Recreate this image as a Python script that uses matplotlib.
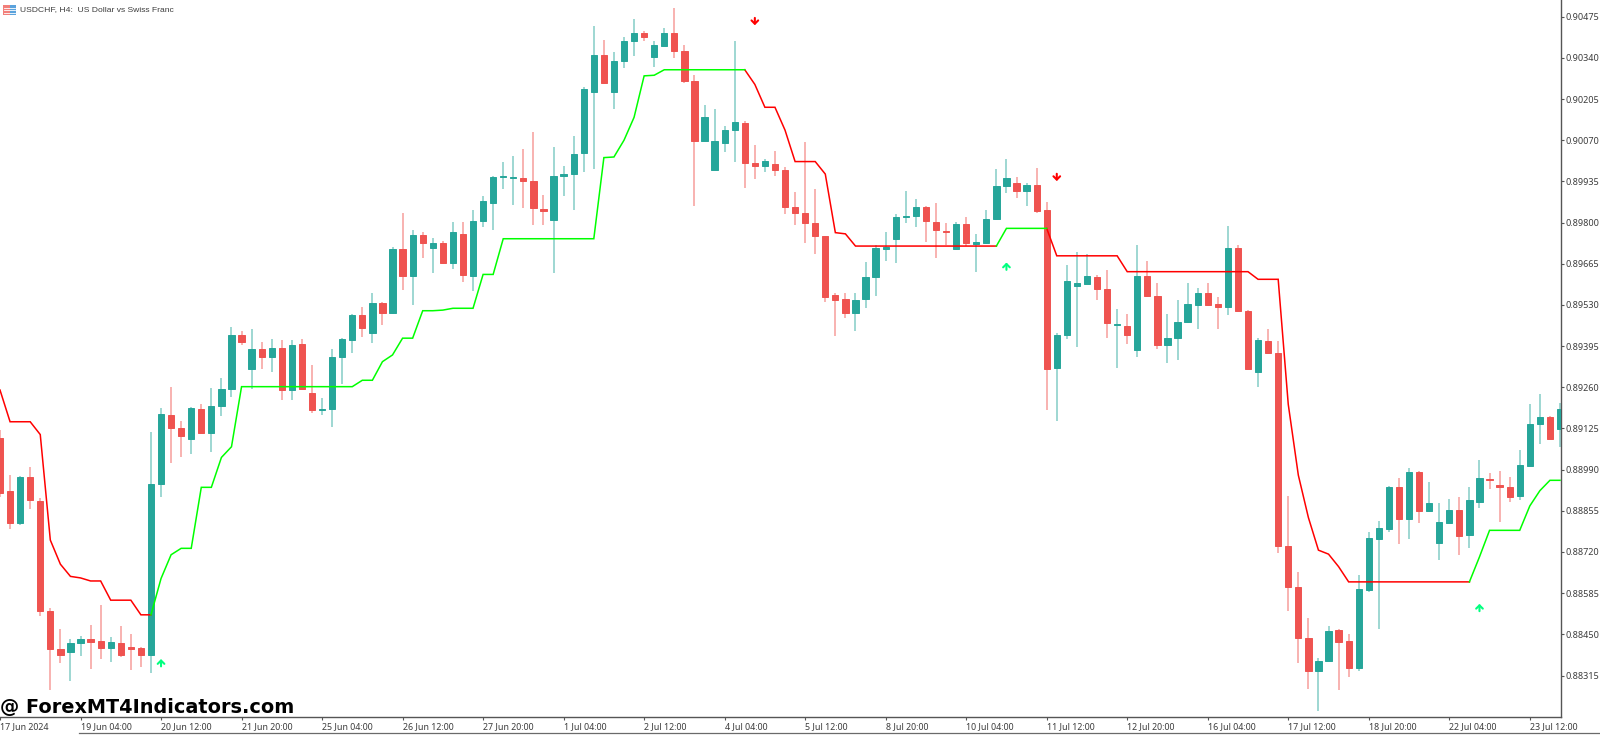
import numpy as np
import matplotlib
matplotlib.use("Agg")
import matplotlib.pyplot as plt
from matplotlib.patches import Rectangle
from matplotlib.lines import Line2D

# prices are in points (1 point = 0.00001)
opens = [89095,88919,88816,88966,88887,88526,88402,88393,88420,88434,88427,88406,88422,88408,88406,88383,
 88943,89169,89128,89091,89189,89110,89198,89256,89431,89320,89385,89360,89390,89250,89401,89240,
 89185,89188,89358,89414,89497,89439,89536,89503,89713,89626,89758,89718,89732,89667,89761,89626,
 89806,89864,89950,89947,89947,89936,89844,89809,89952,89960,90028,90227,90351,90229,90331,90396,
 90421,90342,90380,90420,90363,90265,90068,89973,90060,90103,90128,89996,89987,89992,89972,89852,
 89831,89797,89755,89561,89548,89502,89548,89620,89713,89747,89818,89820,89852,89803,89773,89712,
 89796,89731,89732,89812,89920,89931,89903,89924,89840,89323,89430,89591,89600,89622,89581,89463,
 89461,89381,89625,89558,89399,89422,89473,89531,89568,89532,89524,89717,89511,89310,89411,89374,
 88740,88604,88439,88330,88364,88463,88429,88341,88595,88762,88797,88934,88828,88983,88853,88748,
 88816,88858,88776,88885,88958,88941,88933,88903,89002,89138,89162,89123]
highs = [89120,88972,88970,89000,88898,88537,88467,88434,88445,88480,88545,88441,88477,88450,88408,89113,
 89191,89260,89149,89194,89204,89257,89292,89456,89445,89451,89410,89418,89415,89414,89418,89332,
 89224,89385,89420,89499,89524,89569,89539,89720,89830,89775,89768,89748,89738,89801,89803,89841,
 89887,89953,89998,90018,90041,90098,89889,90049,89984,90084,90243,90444,90398,90359,90407,90467,
 90427,90394,90437,90502,90381,90284,90187,90172,90116,90395,90132,90054,90008,90034,89981,89900,
 90063,89909,89757,89568,89568,89568,89671,89728,89769,89827,89903,89876,89854,89865,89797,89801,
 89817,89762,89841,89974,90008,89951,89931,89980,89868,89439,89660,89703,89697,89628,89644,89518,
 89499,89726,89675,89602,89501,89546,89601,89584,89601,89555,89789,89728,89513,89420,89450,89411,
 88903,88654,88502,88371,88477,88469,88450,88646,88787,88823,88935,88961,88997,88987,88948,88881,
 88893,88900,88933,89022,88979,88985,88966,89055,89204,89238,89166,89207]
lows = [88900,88797,88810,88860,88511,88267,88357,88298,88380,88336,88369,88359,88377,88333,88344,88322,
 88901,89013,89032,89041,89108,89048,89167,89227,89399,89254,89320,89311,89219,89219,89251,89176,
 89169,89131,89271,89373,89424,89406,89463,89500,89579,89530,89684,89634,89665,89648,89606,89575,
 89785,89777,89911,89857,89849,89793,89793,89636,89888,89841,89965,89974,90254,90171,90306,90347,
 90396,90310,90379,90340,90256,89855,90066,89972,90031,90000,89913,89942,89967,89954,89827,89792,
 89734,89698,89539,89429,89488,89445,89521,89558,89674,89667,89799,89786,89737,89684,89726,89710,
 89723,89639,89730,89808,89898,89881,89855,89831,89184,89150,89417,89391,89598,89545,89421,89322,
 89403,89358,89555,89386,89340,89351,89472,89451,89526,89451,89498,89507,89319,89261,89368,88717,
 88525,88357,88270,88199,88364,88267,88311,88330,88590,88468,88787,88745,88764,88815,88852,88694,
 88815,88709,88732,88864,88926,88819,88884,88892,89001,89073,89089,89063]
closes = [88912,88816,88967,88891,88525,88402,88381,88420,88434,88426,88406,88425,88381,88403,88382,88944,
 89172,89127,89101,89192,89110,89199,89255,89431,89407,89385,89360,89390,89250,89397,89253,89185,
 89188,89358,89418,89497,89453,89535,89504,89713,89626,89758,89733,89732,89669,89768,89628,89806,
 89872,89950,89953,89949,89936,89848,89839,89952,89959,90024,90237,90351,90256,90331,90396,90420,
 90409,90381,90420,90363,90264,90068,90145,90066,90103,90131,89994,89987,90001,89972,89852,89831,
 89799,89757,89557,89547,89502,89546,89620,89715,89719,89818,89820,89852,89804,89775,89769,89796,
 89732,89735,89813,89920,89947,89903,89924,89838,89320,89430,89610,89601,89625,89581,89472,89467,
 89432,89625,89558,89399,89421,89474,89532,89568,89531,89523,89715,89511,89321,89414,89374,88740,
 88604,88439,88329,88362,88462,88426,88341,88598,88765,88798,88934,88828,88983,88853,88881,88818,
 88858,88774,88890,88962,88955,88932,88900,89004,89138,89164,89090,89188]

nan = float("nan")
red_line = [89251,89147,89147,89147,89105,88759,88680,88640,88635,88625,88625,88562,88562,88562,88514,88514]
red_line += [nan]*58
red_line += [90301,90253,90178,90178,90103,90000,90000,90000,89959,89767,89763,89723,89723,89723,89723,89723,
 89723,89723,89723,89723,89723,89723,89723,89723,89723,89723]
red_line += [nan]*4
red_line += [89781,89691,89691,89691,89691,89691,89691,89691,89639,89639,89639,89639,89639,89639,89639,89639,
 89639,89639,89639,89639,89639,89614,89614,89614,89204,88972,88833,88726,88713,88672,88622,88622,88622,88622,
 88622,88622,88622,88622,88622,88622,88622,88622,88622]
red_line += [nan]*9

green_line = [nan]*15
green_line += [88514,88633,88711,88732,88732,88932,88932,89030,89065,89262,89262,89262,89262,89262,89262,89262,
 89262,89262,89262,89262,89262,89283,89283,89344,89366,89421,89421,89511,89511,89513,89519,89519,89519,89630,
 89630,89747,89747,89747,89747,89747,89747,89747,89747,89747,89747,90013,90015,90070,90145,90281,90283,90301,
 90301,90301,90301,90301,90301,90301,90301,90301]
green_line += [nan]*24
green_line += [89723,89781,89781,89781,89781,89781]
green_line += [nan]*41
green_line += [88622,88704,88791,88791,88791,88791,88871,88921,88955,88955]

up_idx = [16, 100, 147]
up_price = [88357, 89657, 88538]
down_idx = [75, 105]
down_price = [90459, 89948]

y_tick_labels = ["0.90475","0.90340","0.90205","0.90070","0.89935","0.89800","0.89665","0.89530","0.89395",
                 "0.89260","0.89125","0.88990","0.88855","0.88720","0.88585","0.88450","0.88315"]
x_tick_labels = ["17 Jun 2024","19 Jun 04:00","20 Jun 12:00","21 Jun 20:00","25 Jun 04:00","26 Jun 12:00",
                 "27 Jun 20:00","1 Jul 04:00","2 Jul 12:00","4 Jul 04:00","5 Jul 12:00","8 Jul 20:00",
                 "10 Jul 04:00","11 Jul 12:00","12 Jul 20:00","16 Jul 04:00","17 Jul 12:00","18 Jul 20:00",
                 "22 Jul 04:00","23 Jul 12:00"]
title_text = "USDCHF, H4:  US Dollar vs Swiss Franc"
watermark = "@ ForexMT4Indicators.com"

UP = "#26A69A"; DOWN = "#EF5350"
W, H = 1600, 735
fig = plt.figure(figsize=(W/100, H/100), dpi=100, facecolor="white")
ax = fig.add_axes([0, 1-716.7/H, 1560.5/W, 716.7/H])
ax.set_facecolor("white")

o, h, l, c = [np.array(v, float)/1e5 for v in (opens, highs, lows, closes)]
x = np.arange(len(o))
cols = [UP if cc >= oo else DOWN for oo, cc in zip(o, c)]

ax.vlines(x, l, h, colors=cols, linewidth=1.25, alpha=0.5, zorder=2)
bottom = np.minimum(o, c); height = np.maximum(np.abs(c-o), 0.00002)
ax.bar(x, height, width=0.62, bottom=bottom, color=cols, edgecolor=cols, linewidth=0.7, zorder=3)

ax.plot(np.arange(len(red_line)), np.array(red_line)/1e5, color="#FF0000", lw=1.1, zorder=4, solid_joinstyle="miter")
ax.plot(np.arange(len(green_line)), np.array(green_line)/1e5, color="#00FF00", lw=1.1, zorder=4, solid_joinstyle="miter")

arrow_style = "->,head_width=0.24,head_length=0.24"
for i, p in zip(up_idx, up_price):
    ax.annotate("", xy=(i, p/1e5 + 0.00012), xytext=(i, p/1e5 - 0.00012),
                arrowprops=dict(arrowstyle=arrow_style, color="#00FF7F", lw=1.5, shrinkA=0, shrinkB=0), zorder=5)
for i, p in zip(down_idx, down_price):
    ax.annotate("", xy=(i, p/1e5 - 0.00012), xytext=(i, p/1e5 + 0.00012),
                arrowprops=dict(arrowstyle=arrow_style, color="#FF0000", lw=1.5, shrinkA=0, shrinkB=0), zorder=5)

ax.set_xlim(0.238, 155.05)
ax.set_ylim(0.88180, 0.905297)

font = "Noto Sans"
txt = "#3c3c3c"
ax.yaxis.tick_right()
ax.set_yticks([float(s) for s in y_tick_labels])
ax.set_yticklabels(y_tick_labels, fontsize=6.5, color=txt, family=font)
ax.set_xticks(np.arange(0, 160, 8)[:len(x_tick_labels)])
ax.set_xticklabels(x_tick_labels, fontsize=6.4, color=txt, family=font, ha="left")
ax.tick_params(axis="y", length=2.2, width=0.8, color="#555555", pad=1.2)
ax.tick_params(axis="x", length=2.2, width=0.8, color="#555555", pad=1.6, direction="out")
for s in ("top", "left"):
    ax.spines[s].set_visible(False)
for s in ("right", "bottom"):
    ax.spines[s].set_color("#555555"); ax.spines[s].set_linewidth(1.0)

# window bottom border, icon, title and watermark
fig.add_artist(Line2D([79/W, 1], [1-733.3/H]*2, color="#6a6a6a", lw=0.9))
fig.add_artist(Rectangle((3/W, 1-15/H), 7/W, 10/H, transform=fig.transFigure, facecolor="#F27F7A", edgecolor="none"))
fig.add_artist(Rectangle((10/W, 1-15/H), 6/W, 10/H, transform=fig.transFigure, facecolor="#5AA2DC", edgecolor="none"))
for yy in (7.5, 10, 12.5):
    fig.add_artist(Line2D([4/W, 15/W], [1-yy/H]*2, color="white", lw=0.6))
fig.text(20/W, 1-10/H, title_text, fontsize=6.1, color=txt, family="Liberation Sans", va="center", ha="left")
fig.text(0.5/W, 1-712.7/H, watermark, fontsize=13.9, color="black", family="DejaVu Sans", weight="bold", va="baseline", ha="left", zorder=10)

fig.savefig("out.png", dpi=100, facecolor="white")
